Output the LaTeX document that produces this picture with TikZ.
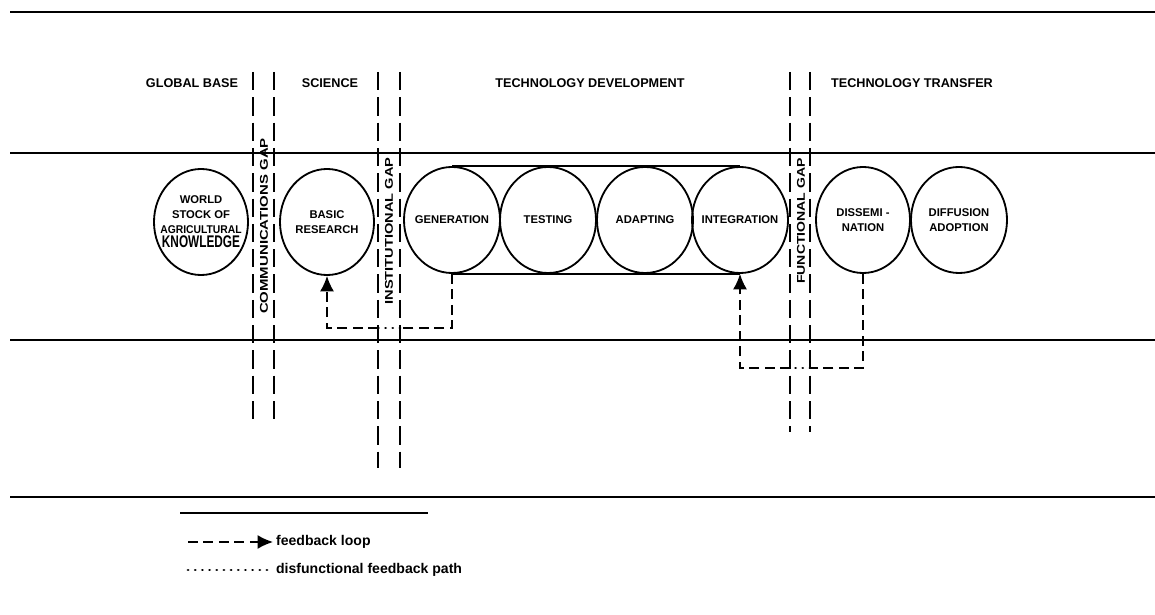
\documentclass[tikz,border=0pt]{standalone}
\usepackage{fontspec}
\setmainfont{Liberation Sans}
\usepackage{graphicx}
\usetikzlibrary{arrows.meta,shapes.geometric}

\begin{document}
\begin{tikzpicture}[x=0.025cm,y=-0.025cm,>={Latex[length=11pt,width=10pt]},
    font=\bfseries\fontsize{8}{10.5}\selectfont]
    \tikzstyle{stage}=[draw, ellipse, line width=1.3pt, inner sep=0pt,
        minimum width=2.35cm, minimum height=2.65cm]
    \tikzstyle{inside}=[align=center, inner sep=0pt]
    \tikzstyle{head}=[font=\bfseries\fontsize{9}{11}\selectfont]
    \tikzstyle{gaplabel}=[rotate=90, inner sep=1pt, font=\bfseries\fontsize{8}{10}\selectfont]
    \tikzstyle{gapline}=[line width=1.1pt, dash pattern=on 13pt off 5pt]
    \tikzstyle{band}=[line width=1.2pt]
    \tikzstyle{fback}=[->, line width=1.2pt, dash pattern=on 7pt off 4pt]
    \tikzstyle{broken}=[line width=2pt, line cap=round, dash pattern=on 0.1pt off 5pt]
    \tikzstyle{key}=[anchor=west, inner sep=2pt, font=\bfseries\fontsize{10}{12}\selectfont]

    \useasboundingbox (0,0) rectangle (1155,615);

    % Frame lines
    \draw[band] (10,12) -- (1155,12);
    \draw[band] (10,153) -- (1155,153);
    \draw[band] (10,340) -- (1155,340);
    \draw[band] (10,497) -- (1155,497);

    % Column headings
    \node[head] (globalbase) at (192,83) {GLOBAL BASE};
    \node[head] (science) at (330,83) {SCIENCE};
    \node[head] (techdev) at (590,83) {TECHNOLOGY DEVELOPMENT};
    \node[head] (techtrans) at (912,83) {TECHNOLOGY TRANSFER};

    % Gaps
    \foreach \x/\y in {253/425, 274/425, 378/468, 400/468, 790/432, 810/432}
        \draw[gapline] (\x,72) -- (\x,\y);
    \node[gaplabel] (commgap) at (264,226) {\scalebox{1.33}[1]{COMMUNICATIONS GAP}};
    \node[gaplabel] (instgap) at (389,231) {\scalebox{1.3}[1]{INSTITUTIONAL GAP}};
    \node[gaplabel] (funcgap) at (801,221) {\scalebox{1.25}[1]{FUNCTIONAL GAP}};

    % Stages
    \node[stage, label={[inside]center:WORLD\\STOCK OF\\\scalebox{0.92}[1]{AGRICULTURAL}\\
        {\fontsize{12}{13}\selectfont\scalebox{0.7}[1]{KNOWLEDGE}}}] (world) at (201,222) {};
    \node[stage, label={[inside]center:BASIC\\RESEARCH}] (basic) at (327,222) {};
    \node[stage, minimum width=2.4cm, label={[inside]center:GENERATION}] (generation) at (452,220) {};
    \node[stage, minimum width=2.4cm, label={[inside]center:TESTING}] (testing) at (548,220) {};
    \node[stage, minimum width=2.4cm, label={[inside]center:ADAPTING}] (adapting) at (645,220) {};
    \node[stage, minimum width=2.4cm, label={[inside]center:INTEGRATION}] (integration) at (740,220) {};
    \node[stage, label={[inside]center:DISSEMI -\\NATION}] (dissem) at (863,220) {};
    \node[stage, minimum width=2.4cm, label={[inside]center:DIFFUSION\\ADOPTION}] (diffusion) at (959,220) {};

    % Development band
    \draw[line width=1pt] (generation.north) -- (integration.north);
    \draw[line width=1pt] (generation.south) -- (integration.south);

    % Feedback loops
    \coordinate (inst1) at (378,328);
    \coordinate (inst2) at (400,328);
    \draw[fback, -] (generation.south) -- (generation.south |- inst2) -- (inst2);
    \draw[broken] (inst2) -- (inst1);
    \draw[fback] (inst1) -- (basic.south |- inst1) -- (basic.south);

    \coordinate (func1) at (790,368);
    \coordinate (func2) at (810,368);
    \draw[fback, -] (dissem.south) -- (dissem.south |- func2) -- (func2);
    \draw[broken] (func2) -- (func1);
    \draw[fback] (func1) -- (integration.south |- func1) -- (integration.south);

    % Legend
    \draw[band] (180,513) -- (428,513);
    \node[key] (loopkey) at (273,542) {feedback loop};
    \node[key] (brokenkey) at (273,570) {disfunctional feedback path};
    \coordinate (loopstart) at (188,542);
    \coordinate (brokenstart) at (188,570);
    \draw[fback] (loopstart) -- (loopkey.west);
    \draw[broken] (brokenstart) -- (brokenkey.west);
\end{tikzpicture}
\end{document}
